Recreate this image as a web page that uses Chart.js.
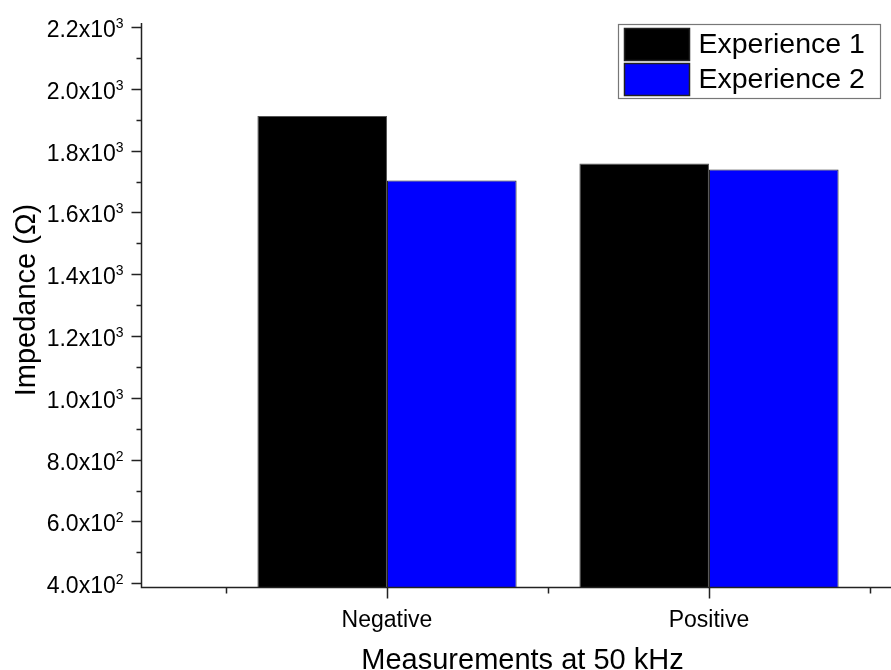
<!DOCTYPE html>
<html>
<head>
<meta charset="utf-8">
<title>Impedance at 50 kHz</title>
<script src="https://cdn.jsdelivr.net/npm/chart.js@4.4.1/dist/chart.umd.min.js"></script>
<style>
    html, body { margin: 0; padding: 0; background: #fff; }
    #wrap { width: 891px; height: 670px; position: relative; }
</style>
</head>
<body>
<div id="wrap"><canvas id="impedance-bar-chart"></canvas></div>
<script>
// Impedance (ohm) measured at 50 kHz
var categories = ["Negative", "Positive"];
var seriesNames = ["Experience 1", "Experience 2"];
var experience1 = [1912, 1758];
var experience2 = [1703, 1739];
var seriesColors = ["#000000", "#0000FF"];

// Axis ticks (x positions: category n sits at n + 1)
var yMajorTicks = [400, 600, 800, 1000, 1200, 1400, 1600, 1800, 2000, 2200];
var yMinorTicks = [500, 700, 900, 1100, 1300, 1500, 1700, 1900, 2100];
var xMajorTicks = [1, 2];
var xMinorTicks = [0.5, 1.5, 2.5];

var FONT = '"Liberation Sans", Arial, sans-serif';

function toPoints(values) {
    return values.map(function (v, i) {
        return { x: i + 1, y: v };
    });
}

// Origin-style axes: outward ticks, scientific labels, boxed legend
var originAxes = {
    id: "originAxes",
    afterDatasetsDraw: function (chart) {
        var ctx = chart.ctx;
        var area = chart.chartArea;
        var xs = chart.scales.x;
        var ys = chart.scales.y;
        var left = area.left + 0.5;
        var bottom = area.bottom + 0.5;

        ctx.save();
        ctx.strokeStyle = "#222";
        ctx.lineWidth = 1.5;

        // axis lines
        ctx.beginPath();
        ctx.moveTo(left, area.top);
        ctx.lineTo(left, bottom);
        ctx.lineTo(area.right + 3, bottom);
        ctx.stroke();

        // y ticks
        ctx.beginPath();
        yMajorTicks.forEach(function (v) {
            var y = Math.round(ys.getPixelForValue(v)) + 0.5;
            ctx.moveTo(left - 10, y);
            ctx.lineTo(left, y);
        });
        yMinorTicks.forEach(function (v) {
            var y = Math.round(ys.getPixelForValue(v)) + 0.5;
            ctx.moveTo(left - 5, y);
            ctx.lineTo(left, y);
        });
        // x ticks
        xMajorTicks.forEach(function (v) {
            var x = Math.round(xs.getPixelForValue(v)) + 0.5;
            ctx.moveTo(x, bottom);
            ctx.lineTo(x, bottom + 11);
        });
        xMinorTicks.forEach(function (v) {
            var x = Math.round(xs.getPixelForValue(v)) + 0.5;
            ctx.moveTo(x, bottom);
            ctx.lineTo(x, bottom + 6);
        });
        ctx.stroke();

        // y tick labels, a.bx10^n
        ctx.fillStyle = "#000";
        ctx.textBaseline = "alphabetic";
        yMajorTicks.forEach(function (v) {
            var exp = Math.floor(Math.log10(v));
            var mant = (v / Math.pow(10, exp)).toFixed(1);
            var y = ys.getPixelForValue(v);
            var right = left - 18;
            ctx.font = "14px " + FONT;
            ctx.textAlign = "right";
            ctx.fillText(String(exp), right, y + 1);
            var supW = ctx.measureText(String(exp)).width;
            ctx.font = "23px " + FONT;
            ctx.fillText(mant + "x10", right - supW, y + 10);
        });

        // x tick labels
        ctx.font = "23px " + FONT;
        ctx.textAlign = "center";
        xMajorTicks.forEach(function (v, i) {
            ctx.fillText(categories[i], xs.getPixelForValue(v), bottom + 39);
        });

        // axis titles
        ctx.font = "29px " + FONT;
        ctx.fillText("Measurements at 50 kHz", (area.left + area.right) / 2 + 8, 669);
        ctx.save();
        ctx.translate(35, (area.top + area.bottom) / 2 - 5);
        ctx.rotate(-Math.PI / 2);
        ctx.fillText("Impedance (\u03A9)", 0, 0);
        ctx.restore();

        // legend box
        var bx = area.right - 269.5, by = area.top + 1.5, bw = 262, bh = 74;
        ctx.fillStyle = "#fff";
        ctx.fillRect(bx, by, bw, bh);
        ctx.strokeStyle = "#777";
        ctx.lineWidth = 1.2;
        ctx.strokeRect(bx, by, bw, bh);
        ctx.font = "28.5px " + FONT;
        ctx.textAlign = "left";
        ctx.textBaseline = "middle";
        chart.data.datasets.forEach(function (ds, i) {
            var sy = by + 4 + i * 35;
            ctx.fillStyle = ds.backgroundColor;
            ctx.fillRect(bx + 6, sy, 65, 32);
            ctx.strokeStyle = "#222";
            ctx.lineWidth = 1.5;
            ctx.strokeRect(bx + 6, sy, 65, 32);
            ctx.fillStyle = "#000";
            ctx.fillText(ds.label, bx + 80, sy + 17);
        });
        ctx.restore();
    }
};

var ctx = document.getElementById("impedance-bar-chart");

var chartData = {
    datasets: [
        {
            label: seriesNames[0],
            data: toPoints(experience1),
            backgroundColor: seriesColors[0],
            borderColor: "#555",
            borderWidth: 1,
        },
        {
            label: seriesNames[1],
            data: toPoints(experience2),
            backgroundColor: seriesColors[1],
            borderColor: "#222",
            borderWidth: 1,
        },
    ],
};

var chartOptions = {
    responsive: true,
    maintainAspectRatio: false,
    animation: false,
    layout: { padding: { left: 141, top: 23, right: 3, bottom: 83 } },
    categoryPercentage: 0.805,
    barPercentage: 1,
    plugins: {
        legend: { display: false },
        tooltip: { enabled: false },
    },
    scales: {
        x: {
            type: "linear",
            display: false,
            offset: false,
            min: 0.236,
            max: 2.556,
            grid: { offset: false },
            ticks: { stepSize: 1, includeBounds: false },
        },
        y: {
            display: false,
            min: 388,
            max: 2213,
        },
    },
};

var impedanceChart = new Chart(ctx, {
    type: "bar",
    data: chartData,
    options: chartOptions,
    plugins: [originAxes],
});
</script>
</body>
</html>
